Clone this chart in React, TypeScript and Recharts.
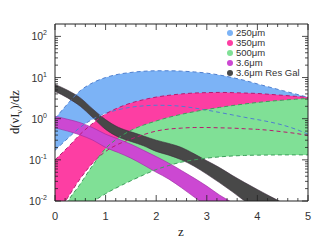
import React from 'react';
import { ComposedChart, Area, Line, XAxis, YAxis, Legend } from 'recharts';

const zValues = [0, 0.25, 0.5, 0.75, 1, 1.25, 1.5, 1.75, 2, 2.25, 2.5, 2.75, 3, 3.25, 3.5, 3.75, 4, 4.25, 4.5, 4.75, 5];

const blueLow = [0.17, 0.33, 0.62, 0.98, 1.35, 1.65, 1.9, 2.05, 2.12, 2.1, 2.0, 1.82, 1.62, 1.42, 1.24, 1.08, 0.95, 0.83, 0.7, 0.56, 0.42];
const blueHigh = [1.0, 2.3, 4.8, 7.5, 10, 12, 13.3, 14.2, 14.6, 14.6, 14.3, 13.7, 12.8, 11.5, 10, 8.5, 7, 5.8, 4.8, 4.0, 3.3];

const pinkLow = [0.004, 0.012, 0.035, 0.085, 0.16, 0.24, 0.32, 0.41, 0.5, 0.56, 0.59, 0.61, 0.61, 0.6, 0.59, 0.57, 0.55, 0.52, 0.48, 0.44, 0.39];
const pinkHigh = [0.1, 0.2, 0.42, 0.78, 1.3, 1.85, 2.4, 2.9, 3.35, 3.7, 4.0, 4.2, 4.3, 4.35, 4.3, 4.2, 4.1, 3.9, 3.7, 3.5, 3.3];

const greenLow = [0.0002, 0.0008, 0.003, 0.009, 0.015, 0.022, 0.031, 0.043, 0.058, 0.073, 0.088, 0.1, 0.11, 0.118, 0.124, 0.128, 0.13, 0.131, 0.132, 0.132, 0.132];
const greenHigh = [0.002, 0.0095, 0.026, 0.075, 0.19, 0.34, 0.52, 0.7, 0.88, 1.08, 1.28, 1.48, 1.68, 1.88, 2.08, 2.28, 2.48, 2.66, 2.82, 2.97, 3.1];

const purpleLow = [0.6, 0.5, 0.4, 0.3, 0.2, 0.15, 0.11, 0.075, 0.05, 0.034, 0.021, 0.0125, 0.0075, 0.0045, 0.0027, 0.0016, 0.001, 0.0006, 0.0004, 0.0003, 0.0002];
const purpleHigh = [1.15, 0.97, 0.8, 0.6, 0.42, 0.32, 0.24, 0.17, 0.12, 0.083, 0.055, 0.036, 0.023, 0.014, 0.0092, 0.0058, 0.0036, 0.0022, 0.0014, 0.0009, 0.0006];

const grayLow = [4.6, 3.2, 2.0, 1.05, 0.55, 0.36, 0.28, 0.22, 0.16, 0.13, 0.1, 0.07, 0.045, 0.028, 0.017, 0.01, 0.0065, 0.004, 0.0025, 0.0015, 0.001];
const grayHigh = [6.8, 4.9, 3.2, 1.7, 0.95, 0.62, 0.48, 0.38, 0.3, 0.25, 0.2, 0.14, 0.095, 0.065, 0.042, 0.028, 0.019, 0.013, 0.009, 0.006, 0.004];

const xTicks = [0, 0.2, 0.4, 0.6, 0.8, 1, 1.2, 1.4, 1.6, 1.8, 2, 2.2, 2.4, 2.6, 2.8, 3, 3.2, 3.4, 3.6, 3.8, 4, 4.2, 4.4, 4.6, 4.8, 5];
const yTicks = [
  0.01, 0.02, 0.03, 0.04, 0.05, 0.06, 0.07, 0.08, 0.09,
  0.1, 0.2, 0.3, 0.4, 0.5, 0.6, 0.7, 0.8, 0.9,
  1, 2, 3, 4, 5, 6, 7, 8, 9,
  10, 20, 30, 40, 50, 60, 70, 80, 90,
  100,
];

const seriesNames = ['250μm', '350μm', '500μm', '3.6μm', '3.6μm Res Gal'];
const fillColors = ['#7cb3f6', '#fd3ea3', '#80e096', '#cc48d2', '#484848'];
const edgeColors = ['#4f7fcf', '#b81a70', '#3e9f5c', '#9a2aa0', '#3a2a3a'];

const data = zValues.map((z, i) => ({
  z,
  blue: [blueLow[i], blueHigh[i]],
  blueLo: blueLow[i],
  blueHi: blueHigh[i],
  pink: [pinkLow[i], pinkHigh[i]],
  pinkLo: pinkLow[i],
  pinkHi: pinkHigh[i],
  green: [greenLow[i], greenHigh[i]],
  greenLo: greenLow[i],
  greenHi: greenHigh[i],
  purple: [purpleLow[i], purpleHigh[i]],
  gray: [grayLow[i], grayHigh[i]],
}));

const W = 331;
const H = 250;
const LEFT = 55;
const RIGHT = 308;
const TOP = 24;
const BOTTOM = 201;
const TICK_FONT = '"Liberation Sans", Arial, sans-serif';
const TITLE_FONT = '"Liberation Serif", "DejaVu Serif", serif';

const XTick = (props: any) => {
  const { x, payload } = props;
  const v = payload.value;
  const major = Math.abs(v - Math.round(v)) < 1e-6;
  const len = major ? 6 : 3;
  return (
    <g>
      <line x1={x} x2={x} y1={BOTTOM} y2={BOTTOM - len} stroke="#222" strokeWidth={0.8} />
      <line x1={x} x2={x} y1={TOP} y2={TOP + len} stroke="#222" strokeWidth={0.8} />
      {major && (
        <text x={x} y={BOTTOM + 19} textAnchor="middle" fontSize={11} fontFamily={TICK_FONT} fill="#333">
          {Math.round(v)}
        </text>
      )}
    </g>
  );
};

const YTick = (props: any) => {
  const { y, payload } = props;
  const v = payload.value;
  const e = Math.log10(v);
  const major = Math.abs(e - Math.round(e)) < 1e-6;
  const len = major ? 6 : 3;
  return (
    <g>
      <line x1={LEFT} x2={LEFT + len} y1={y} y2={y} stroke="#222" strokeWidth={0.8} />
      <line x1={RIGHT} x2={RIGHT - len} y1={y} y2={y} stroke="#222" strokeWidth={0.8} />
      {major && (
        <text x={LEFT - 8} y={y + 4} textAnchor="end" fontSize={10.5} fontFamily={TICK_FONT} fill="#333">
          <tspan>10</tspan>
          <tspan dy={-5} fontSize={7}>{Math.round(e)}</tspan>
        </text>
      )}
    </g>
  );
};

const LegendBox = () => (
  <svg width={110} height={56} style={{ display: 'block' }}>
    {seriesNames.map((name, i) => (
      <g key={name}>
        <circle cx={8} cy={7 + i * 10} r={3} fill={fillColors[i]} />
        <text x={14} y={10.3 + i * 10} fontSize={9.5} fontFamily={TICK_FONT} fill="#333">
          {name}
        </text>
      </g>
    ))}
  </svg>
);

export default function App() {
  return (
    <div style={{ position: 'absolute', left: 0, top: 0, width: W, height: H, background: '#fff' }}>
      <ComposedChart width={W} height={H} data={data} margin={{ top: TOP, right: W - RIGHT, bottom: 0, left: 0 }}>
        <XAxis
          dataKey="z"
          type="number"
          domain={[0, 5]}
          ticks={xTicks}
          interval={0}
          tick={<XTick />}
          tickLine={false}
          axisLine={{ stroke: '#222' }}
          height={H - BOTTOM}
          label={{
            content: () => (
              <text x={181} y={236} textAnchor="middle" fontSize={13} fontFamily={TITLE_FONT} fill="#222">
                z
              </text>
            ),
          }}
        />
        <XAxis xAxisId="top" orientation="top" mirror type="number" domain={[0, 5]} tick={false} tickLine={false} axisLine={{ stroke: '#222' }} />
        <YAxis
          type="number"
          scale="log"
          domain={[0.01, 200]}
          allowDataOverflow
          ticks={yTicks}
          interval={0}
          tick={<YTick />}
          tickLine={false}
          axisLine={{ stroke: '#222' }}
          width={LEFT}
          label={{
            content: () => (
              <text
                x={19}
                y={112}
                transform="rotate(-90 19 112)"
                textAnchor="middle"
                fontSize={12.5}
                fontFamily={TITLE_FONT}
                fill="#222"
              >
                <tspan>d(νI</tspan>
                <tspan dy={3} fontSize={9}>ν</tspan>
                <tspan dy={-3}>)/dz</tspan>
              </text>
            ),
          }}
        />
        <YAxis yAxisId="right" orientation="right" mirror type="number" scale="log" domain={[0.01, 200]} allowDataOverflow tick={false} tickLine={false} axisLine={{ stroke: '#222' }} />

        <Area dataKey="blue" type="monotone" fill={fillColors[0]} fillOpacity={1} stroke="none" isAnimationActive={false} />
        <Area dataKey="pink" type="monotone" fill={fillColors[1]} fillOpacity={1} stroke="none" isAnimationActive={false} />
        <Area dataKey="green" type="monotone" fill={fillColors[2]} fillOpacity={1} stroke="none" isAnimationActive={false} />
        <Area dataKey="purple" type="monotone" fill={fillColors[3]} fillOpacity={1} stroke={edgeColors[3]} strokeWidth={0.6} isAnimationActive={false} />

        <Line dataKey="blueLo" type="monotone" stroke={edgeColors[0]} strokeWidth={1} strokeDasharray="4 3" dot={false} isAnimationActive={false} />
        <Line dataKey="blueHi" type="monotone" stroke={edgeColors[0]} strokeWidth={1} strokeDasharray="4 3" dot={false} isAnimationActive={false} />
        <Line dataKey="pinkLo" type="monotone" stroke={edgeColors[1]} strokeWidth={1} strokeDasharray="4 3" dot={false} isAnimationActive={false} />
        <Line dataKey="pinkHi" type="monotone" stroke={edgeColors[1]} strokeWidth={1} strokeDasharray="4 3" dot={false} isAnimationActive={false} />
        <Line dataKey="greenLo" type="monotone" stroke={edgeColors[2]} strokeWidth={1} strokeDasharray="4 3" dot={false} isAnimationActive={false} />
        <Line dataKey="greenHi" type="monotone" stroke={edgeColors[2]} strokeWidth={1} strokeDasharray="4 3" dot={false} isAnimationActive={false} />

        <Area dataKey="gray" type="monotone" fill={fillColors[4]} fillOpacity={1} stroke={edgeColors[4]} strokeWidth={0.6} isAnimationActive={false} />

        <Legend
          layout="vertical"
          verticalAlign="middle"
          align="center"
          content={() => <LegendBox />}
          wrapperStyle={{ position: 'absolute', left: 222, top: 26, width: 110, height: 56 }}
        />
      </ComposedChart>
    </div>
  );
}
